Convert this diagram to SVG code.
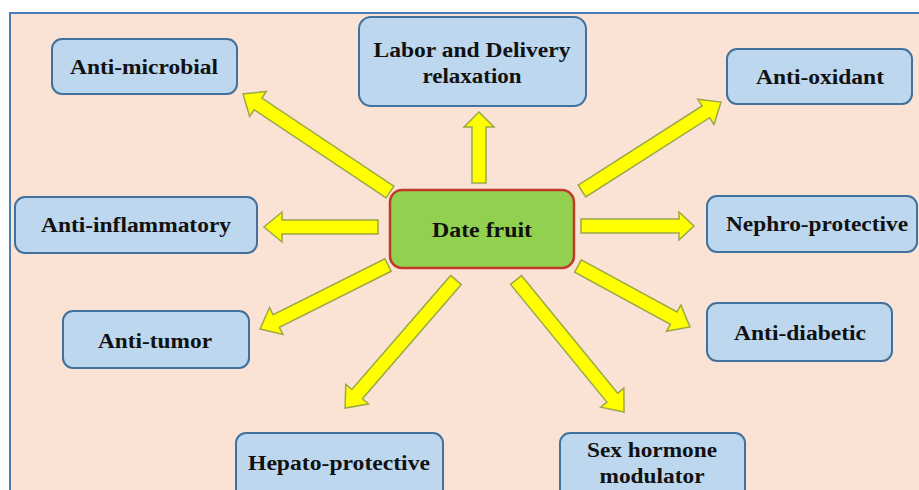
<svg xmlns="http://www.w3.org/2000/svg" width="919" height="490" viewBox="0 0 919 490">
<style>
.box{fill:#BDD7EE;stroke:#41719C;stroke-width:2}
.main{fill:#92D050;stroke:#C0392B;stroke-width:2.5}
.t{font-family:"Liberation Serif","Times New Roman",serif;font-weight:bold;font-size:20px;fill:#111;text-anchor:middle}
.arr{fill:#FFFF00;stroke:#9AA84A;stroke-width:1.5;stroke-linejoin:miter}
</style>
<rect x="0" y="0" width="919" height="490" fill="#FFFFFF"/>
<rect x="10" y="13" width="920" height="490" fill="#FAE3D5" stroke="#4A7EBB" stroke-width="2"/>
<g id="connectors">
<path class="arr" transform="translate(390,192) rotate(213.7)" d="M0,-7 L158.7,-7 L158.7,-15 L176.7,0 L158.7,15 L158.7,7 L0,7 Z"/>
<path class="arr" transform="translate(479,183) rotate(-90)" d="M0,-7 L56,-7 L56,-15 L71,0 L56,15 L56,7 L0,7 Z"/>
<path class="arr" transform="translate(582,191) rotate(-32.6)" d="M0,-7 L147,-7 L147,-15 L165,0 L147,15 L147,7 L0,7 Z"/>
<path class="arr" transform="translate(581,226) rotate(0)" d="M0,-7 L98,-7 L98,-14 L113,0 L98,14 L98,7 L0,7 Z"/>
<path class="arr" transform="translate(378,227) rotate(180)" d="M0,-7 L96,-7 L96,-15 L114,0 L96,15 L96,7 L0,7 Z"/>
<path class="arr" transform="translate(388,265) rotate(153.4)" d="M0,-7 L125,-7 L125,-15 L143,0 L125,15 L125,7 L0,7 Z"/>
<path class="arr" transform="translate(456,280) rotate(130.9)" d="M0,-7 L151,-7 L151,-15 L169.4,0 L151,15 L151,7 L0,7 Z"/>
<path class="arr" transform="translate(516,280) rotate(50.7)" d="M0,-7 L152,-7 L152,-15 L170.6,0 L152,15 L152,7 L0,7 Z"/>
<path class="arr" transform="translate(578,266) rotate(28.6)" d="M0,-7 L109,-7 L109,-15 L127.5,0 L109,15 L109,7 L0,7 Z"/>
</g>
<g id="date-fruit"><rect class="main" x="390" y="190" width="184" height="78" rx="12"/><text class="t" x="482" y="237" textLength="100" lengthAdjust="spacingAndGlyphs">Date fruit</text></g>
<g id="anti-microbial"><rect class="box" x="52" y="39" width="185" height="55" rx="10"/><text class="t" x="144" y="74" textLength="148" lengthAdjust="spacingAndGlyphs">Anti-microbial</text></g>
<g id="labor"><rect class="box" x="359" y="17" width="227" height="89" rx="12"/><text class="t" x="472" y="57" textLength="197" lengthAdjust="spacingAndGlyphs">Labor and Delivery</text><text class="t" x="472" y="83" textLength="99" lengthAdjust="spacingAndGlyphs">relaxation</text></g>
<g id="anti-oxidant"><rect class="box" x="727" y="49" width="185" height="55" rx="10"/><text class="t" x="820" y="84" textLength="128" lengthAdjust="spacingAndGlyphs">Anti-oxidant</text></g>
<g id="nephro"><rect class="box" x="707" y="196" width="210" height="56" rx="10"/><text class="t" x="817" y="231" textLength="182" lengthAdjust="spacingAndGlyphs">Nephro-protective</text></g>
<g id="anti-inflammatory"><rect class="box" x="15" y="197" width="242" height="56" rx="10"/><text class="t" x="136" y="232" textLength="190" lengthAdjust="spacingAndGlyphs">Anti-inflammatory</text></g>
<g id="anti-tumor"><rect class="box" x="63" y="311" width="186" height="57" rx="10"/><text class="t" x="155" y="348" textLength="114" lengthAdjust="spacingAndGlyphs">Anti-tumor</text></g>
<g id="anti-diabetic"><rect class="box" x="707" y="303" width="185" height="58" rx="10"/><text class="t" x="800" y="340" textLength="132" lengthAdjust="spacingAndGlyphs">Anti-diabetic</text></g>
<g id="hepato"><rect class="box" x="236" y="433" width="207" height="70" rx="10"/><text class="t" x="339" y="470" textLength="182" lengthAdjust="spacingAndGlyphs">Hepato-protective</text></g>
<g id="sex-hormone"><rect class="box" x="560" y="433" width="185" height="70" rx="10"/><text class="t" x="652" y="457" textLength="130" lengthAdjust="spacingAndGlyphs">Sex hormone</text><text class="t" x="652" y="483" textLength="105" lengthAdjust="spacingAndGlyphs">modulator</text></g>
</svg>
